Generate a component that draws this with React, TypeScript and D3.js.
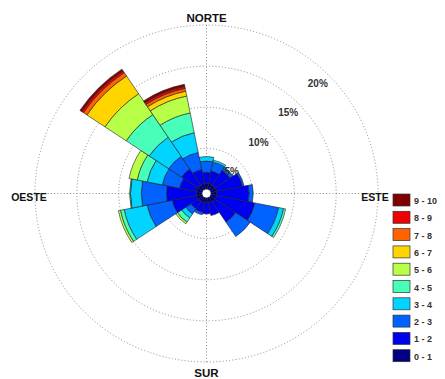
import React from "react";
import * as d3 from "d3";

// Directions (compass, clockwise from North), 16 sectors
const directions = ["N","NNE","NE","ENE","E","ESE","SE","SSE","S","SSW","SW","WSW","W","WNW","NW","NNW"];

// Frequency (%) per speed class, per direction
const c0_1  = [0.75,0.75,0.75,0.75,0.75,0.75,0.75,0.65,0.65,0.65,0.65,0.75,0.75,0.75,0.75,0.75];
const c1_2  = [1.35,1.55,2.15,3.15,3.85,4.65,2.95,1.6,1.35,1.2,1.1,2.95,3.55,2.05,2.35,1.75];
const c2_3  = [1.35,1.1,0.45,0.2,0.5,2.9,2.1,0,0,0.3,0.75,3.05,3.0,2.1,1.85,2.1];
const c3_4  = [0.55,0.25,0,0,0,0.6,0,0,0,0,0.6,2.8,1.3,1.85,2.8,2.45];
const c4_5  = [0,0,0,0,0,0.25,0,0,0,0,0.6,0.45,0.1,1.2,3.3,2.45];
const c5_6  = [0,0,0,0,0,0,0,0,0,0,0.25,0.25,0,1.0,3.05,2.1];
const c6_7  = [0,0,0,0,0,0,0,0,0,0,0,0,0,0,2.6,0.6];
const c7_8  = [0,0,0,0,0,0,0,0,0,0,0,0,0,0,0.5,0.35];
const c8_9  = [0,0,0,0,0,0,0,0,0,0,0,0,0,0,0.25,0.25];
const c9_10 = [0,0,0,0,0,0,0,0,0,0,0,0,0,0,0.25,0.25];

const classes = [c0_1,c1_2,c2_3,c3_4,c4_5,c5_6,c6_7,c7_8,c8_9,c9_10];
const classLabels = ["0 - 1","1 - 2","2 - 3","3 - 4","4 - 5","5 - 6","6 - 7","7 - 8","8 - 9","9 - 10"];

const ringValues = [5, 10, 15, 20];
const ringLabels = ["5%", "10%", "15%", "20%"];
const compassLabels = ["NORTE", "ESTE", "SUR", "OESTE"];

function jet(t: number): string {
  const c = (v: number) => Math.max(0, Math.min(1, v));
  const r = c(1.5 - Math.abs(4 * t - 3));
  const g = c(1.5 - Math.abs(4 * t - 2));
  const b = c(1.5 - Math.abs(4 * t - 1));
  return d3.rgb(r * 255, g * 255, b * 255).formatHex();
}

export default function App() {
  const W = 445, H = 379;
  const cx = 206.5, cy = 193.5, sx = 1.018;
  const r = d3.scaleLinear().domain([0, 20]).range([4, 168.5]);
  const colors = classLabels.map((_, i) => jet(i / (classLabels.length - 1)));
  const step = (2 * Math.PI) / directions.length;
  const arc = d3.arc<any>();

  const segs: any[] = [];
  directions.forEach((d, i) => {
    let cum = 0;
    classes.forEach((arr, k) => {
      const v = arr[i];
      if (v <= 0) return;
      segs.push({
        key: d + k,
        path: arc({
          innerRadius: r(cum),
          outerRadius: r(cum + v),
          startAngle: i * step - step / 2,
          endAngle: i * step + step / 2,
        }),
        fill: colors[k],
      });
      cum += v;
    });
  });

  const R = r(20);
  const c45 = Math.SQRT1_2;

  return (
    <svg width={W} height={H} style={{ position: "absolute", left: 0, top: 0, background: "#fff" }}
      fontFamily="'Liberation Sans', Arial, Helvetica, sans-serif">
      <rect x={0} y={0} width={W} height={H} fill="#fff" />
      <g transform={`translate(${cx},${cy}) scale(${sx},1)`}>
        {ringValues.map((p) => (
          <circle key={p} r={r(p)} fill="none" stroke="#8a8a8a" strokeWidth={1}
            strokeDasharray="1 2.2" vectorEffect="non-scaling-stroke" />
        ))}
        <line x1={0} y1={-R} x2={0} y2={R} stroke="#8a8a8a" strokeWidth={1} strokeDasharray="1 2.2" vectorEffect="non-scaling-stroke" />
        <line x1={-R} y1={0} x2={R} y2={0} stroke="#8a8a8a" strokeWidth={1} strokeDasharray="1 2.2" vectorEffect="non-scaling-stroke" />
        {segs.map((s) => (
          <path key={s.key} d={s.path} fill={s.fill} stroke="#1e1e1e" strokeWidth={0.6} vectorEffect="non-scaling-stroke" />
        ))}
        <circle r={r(0)} fill="#fff" />
      </g>
      {ringValues.map((p, i) => (
        <text key={p} x={cx + r(p) * sx * c45} y={cy - r(p) * c45 + 13} textAnchor="end"
          fontSize={10} fontWeight="bold" fill="#333">{ringLabels[i]}</text>
      ))}
      <text x={cx} y={cy - R - 3} textAnchor="middle" fontSize={11.5} fontWeight="bold" fill="#111">{compassLabels[0]}</text>
      <text x={375} y={200.5} textAnchor="middle" fontSize={10.5} fontWeight="bold" fill="#111">{compassLabels[1]}</text>
      <text x={cx} y={cy + R + 15} textAnchor="middle" fontSize={11.5} fontWeight="bold" fill="#111">{compassLabels[2]}</text>
      <text x={29} y={200.5} textAnchor="middle" fontSize={10.5} fontWeight="bold" fill="#111">{compassLabels[3]}</text>
      {classLabels.slice().reverse().map((lab, i) => {
        const k = classLabels.length - 1 - i;
        const y = 194 + i * 17.3;
        return (
          <g key={lab}>
            <rect x={393} y={y} width={17} height={12} fill={colors[k]} stroke="#333" strokeWidth={0.7} />
            <text x={414} y={y + 10} fontSize={9} fontWeight="bold" fill="#333">{lab}</text>
          </g>
        );
      })}
    </svg>
  );
}
